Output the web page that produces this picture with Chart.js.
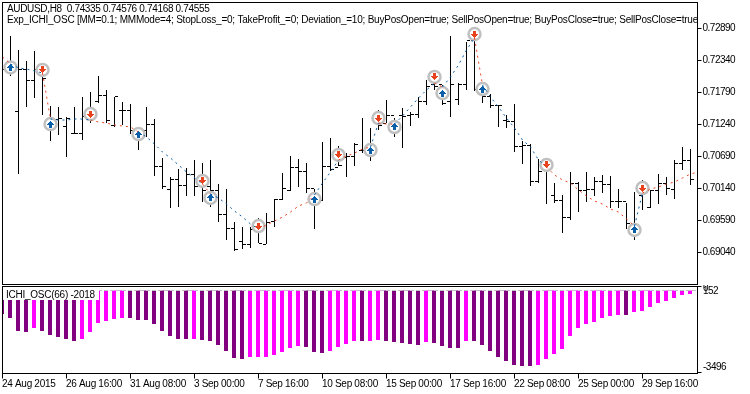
<!DOCTYPE html>
<html><head><meta charset="utf-8">
<script src="https://cdn.jsdelivr.net/npm/chart.js@4"></script>
<style>
html,body{margin:0;padding:0;background:#fff;width:750px;height:394px;overflow:hidden}
canvas{position:absolute;left:0;display:block}
</style></head><body>
<canvas id="main" width="750" height="285" style="top:0"></canvas>
<canvas id="sub" width="750" height="109" style="top:285px"></canvas>
<script>
const days=['24 Aug','25 Aug','26 Aug','27 Aug','28 Aug','31 Aug','1 Sep','2 Sep','3 Sep','4 Sep','7 Sep','8 Sep','9 Sep','10 Sep','11 Sep','14 Sep','15 Sep','16 Sep','17 Sep','18 Sep','21 Sep','22 Sep','23 Sep','24 Sep','25 Sep','28 Sep','29 Sep','30 Sep','1 Oct'];
const hours=['00:00','08:00','16:00'];
const categories=days.flatMap(d=>hours.map(h=>d+' '+h));
const tickBars=[0,8,16,24,32,40,48,56,64,72,80];
const tickLabels=['24 Aug 2015','26 Aug 16:00','31 Aug 08:00','3 Sep 00:00','7 Sep 16:00','10 Sep 08:00','15 Sep 00:00','17 Sep 16:00','22 Sep 08:00','25 Sep 00:00','29 Sep 16:00'];
const priceTicks=[0.7289,0.7234,0.7179,0.7124,0.7069,0.7014,0.6959,0.6904];
const header1='AUDUSD,H8  0.74335 0.74576 0.74168 0.74555';
const header2='Exp_ICHI_OSC [MM=0.1; MMMode=4; StopLoss_=0; TakeProfit_=0; Deviation_=10; BuyPosOpen=true; SellPosOpen=true; BuyPosClose=true; SellPosClose=true]';
const oscName='ICHI_OSC(66) -2018';
const oscTicks=[152,-3496];
const oscLabels=['0','152','-3496'];
const highs=[.72520,.72761,.72520,.72332,.72503,.72211,.71558,.71541,.71369,.71541,.71713,.71799,.72074,.71833,.71713,.71627,.71592,.71197,.71541,.71334,.70664,.70338,.70475,.70493,.70630,.70578,.70630,.70217,.70131,.69564,.69478,.69478,.69633,.69719,.69959,.70406,.70698,.70647,.70578,.70131,.70939,.71007,.70870,.70749,.70921,.71351,.71180,.71489,.71661,.71351,.71523,.71455,.71713,.72005,.72143,.71919,.72761,.71953,.72658,.72899,.71971,.71764,.71575,.71403,.71592,.70956,.70904,.70647,.70664,.70234,.70028,.70424,.70252,.70424,.70338,.70372,.70355,.70131,.69890,.70079,.70286,.70114,.70389,.70338,.70630,.70853,.70818];
const lows=[.72005,.72074,.70389,.71541,.71695,.71403,.70956,.71059,.70681,.71076,.70973,.71265,.71609,.71265,.71197,.71231,.71076,.70801,.71025,.70355,.70131,.69805,.69822,.70011,.70011,.69908,.69822,.69564,.69255,.69066,.69100,.69117,.69203,.69186,.69478,.69942,.70097,.70166,.70062,.69444,.69925,.70441,.70527,.70338,.70527,.70749,.70613,.71145,.71265,.71025,.70836,.71214,.71351,.71575,.71833,.71575,.71369,.71575,.71833,.71816,.71609,.71523,.71197,.71180,.70767,.70561,.70183,.70235,.69873,.69890,.69375,.69598,.69736,.69908,.70011,.70062,.69805,.69805,.69444,.69255,.69770,.69805,.69873,.70028,.69959,.70458,.70200];
const opens=[.72177,.72297,.71455,.72177,.71988,.72143,.71351,.71334,.71197,.71093,.71093,.71455,.71627,.71730,.71231,.71472,.71472,.71145,.71145,.71248,.70510,.70131,.70303,.70200,.70389,.70200,.70166,.70114,.69701,.69444,.69221,.69186,.69495,.69186,.69581,.69959,.70114,.70493,.70424,.70148,.69942,.70510,.70493,.70681,.70698,.70801,.70836,.71317,.71265,.71403,.71403,.71403,.71420,.71627,.71936,.71919,.71627,.71678,.71936,.72692,.71833,.71713,.71575,.71317,.71283,.70870,.70887,.70252,.70544,.70028,.69942,.69650,.70234,.70114,.70131,.70252,.70217,.69925,.69908,.69461,.70028,.69822,.70114,.70234,.70131,.70578,.70613];
const closes=[.72177,.72177,.72177,.71988,.72177,.72039,.71283,.71351,.71351,.71093,.71369,.71351,.71730,.71317,.71713,.71472,.71145,.71059,.71248,.70510,.70166,.70303,.70200,.70389,.70166,.70114,.70114,.69701,.69444,.69083,.69186,.69427,.69203,.69564,.69959,.70148,.70493,.70424,.70148,.69942,.70510,.70458,.70527,.70698,.70904,.70801,.70801,.71231,.71403,.71231,.71386,.71420,.71627,.71885,.71885,.71609,.71936,.71936,.72692,.71833,.71713,.71575,.71558,.71283,.70870,.70887,.70252,.70424,.70458,.69942,.69650,.70234,.70114,.70131,.70252,.70217,.69925,.69908,.69546,.69461,.70148,.70114,.70234,.70148,.70578,.70613,.70303];
const signalLine=[.72400,.72280,.72211,.72194,.72160,.72125,.71334,.71317,.71317,.71334,.71334,.71317,.71283,.71265,.71231,.71214,.71197,.71111,.71025,.70904,.70767,.70664,.70544,.70424,.70321,.70217,.70045,.69977,.69873,.69753,.69650,.69530,.69444,.69513,.69581,.69650,.69736,.69839,.69890,.70028,.70234,.70424,.70630,.70698,.70749,.70818,.70853,.71265,.71248,.71248,.71386,.71541,.71695,.71833,.71953,.71885,.72057,.72263,.72520,.72727,.71919,.71713,.71541,.71351,.71180,.70973,.70853,.70630,.70510,.70372,.70286,.70234,.70114,.70011,.69925,.69873,.69787,.69736,.69615,.69495,.70062,.70131,.70166,.70217,.70252,.70321,.70389,.70424];
const buyBars=[1,6,17,26,39,46,49,55,60,79];
const buyPrices=[.72220,.71248,.71076,.69977,.69959,.70801,.71197,.71781,.71850,.69427];
const sellBars=[5,11,25,32,42,47,54,59,68,80];
const sellPrices=[.72177,.71420,.70269,.69495,.70716,.71351,.72057,.72795,.70544,.70148];
const oscValues=[-1003,-1173,-1728,-1771,-1600,-1728,-1899,-1984,-2069,-2155,-2069,-1771,-1387,-1301,-1216,-1173,-1173,-1259,-1259,-1429,-1728,-1941,-2069,-2069,-2069,-2112,-2155,-2325,-2581,-2880,-2923,-2837,-2837,-2837,-2752,-2624,-2453,-2368,-2411,-2624,-2667,-2581,-2411,-2283,-2155,-2155,-2155,-2112,-2155,-2197,-2240,-2283,-2325,-2197,-2240,-2368,-2453,-2453,-2155,-2155,-2325,-2581,-2837,-3008,-3179,-3221,-3221,-3179,-2923,-2709,-2496,-1941,-1600,-1429,-1344,-1173,-1088,-1045,-1045,-917,-875,-704,-533,-448,-320,-192,-149];
const oscRising=[0,0,0,0,1,0,0,0,0,0,1,1,1,1,1,1,0,0,0,0,0,0,0,0,1,0,0,0,0,0,0,1,1,1,1,1,1,1,0,0,0,1,1,1,1,0,1,1,0,0,0,0,0,1,0,0,0,0,1,0,0,0,0,0,0,0,0,1,1,1,1,1,1,1,1,1,1,1,0,1,1,1,1,1,1,1,1];

const FONT='"Liberation Sans"';
const RIGHT_W=52.5;
const BLUE='#0b5fa9', RED='#e8431f', RING='#c0c0c0', PURPLE='#800080', MAGENTA='#ff00ff';

function tickImage(side){const c=document.createElement('canvas');c.width=7;c.height=1;const x=c.getContext('2d');x.fillStyle='#000';x.fillRect(side<0?0:4,0,3,1);return c;}
function arrowImage(up,color){const rows=[1,3,5,7,3,3,3];const c=document.createElement('canvas');c.width=7;c.height=7;const x=c.getContext('2d');x.fillStyle=color;rows.forEach((w,r)=>{const y=up?r:6-r;x.fillRect((7-w)/2,y,w,1);});return c;}
const pts=(bars,vals)=>bars.map((b,i)=>({x:b,y:vals[i]}));
const idx=highs.map((_,i)=>i);
const mark=[];let state=RED;
signalLine.forEach((_,i)=>{if(buyBars.includes(i))state=BLUE;if(sellBars.includes(i))state=RED;mark[i]=state;});

const noPad=s=>{s.paddingTop=0;s.paddingBottom=0;s.paddingLeft=0;s.paddingRight=0;};
const xBase={type:'linear',offset:false,grid:{offset:false,display:false},border:{display:false}};
const framePlugin=(top,bottom,spacing)=>({id:'frame',beforeDraw(c){c.ctx.imageSmoothingEnabled=false;c.ctx.letterSpacing=spacing;},afterDraw(c){const x=c.ctx;x.save();x.strokeStyle='#000';x.lineWidth=1;x.strokeRect(2.5,top,695,bottom-top);x.restore();}});
const headerPlugin={id:'header',afterDraw(c){const x=c.ctx;x.save();x.beginPath();x.rect(3,3,694,30);x.clip();x.fillStyle='#000';x.font='10px '+FONT;x.textBaseline='middle';x.textAlign='left';x.letterSpacing='-0.33px';x.fillText(header1,7,9.5);x.letterSpacing='-0.22px';x.fillText(header2,7,20.5);x.restore();}};

new Chart(document.getElementById('main'),{
 type:'bar',
 data:{datasets:[
  {type:'line',data:pts(sellBars,sellPrices),showLine:false,pointStyle:arrowImage(false,RED),pointRadius:4,order:0},
  {type:'line',data:pts(buyBars,buyPrices),showLine:false,pointStyle:arrowImage(true,BLUE),pointRadius:4,order:0},
  {type:'line',data:pts(idx.concat(87),signalLine),borderColor:RED,borderWidth:1,borderDash:[2,4],pointRadius:0,tension:0,order:1,segment:{borderColor:s=>mark[s.p0DataIndex]}},
  {type:'line',data:pts(sellBars.concat(buyBars),sellPrices.concat(buyPrices)),showLine:false,pointStyle:'circle',pointRadius:6,pointBorderWidth:2.5,pointBorderColor:RING,pointBackgroundColor:'#fff',order:2},
  {type:'line',data:pts(idx,opens),showLine:false,pointStyle:tickImage(-1),pointRadius:4,order:3},
  {type:'line',data:pts(idx,closes),showLine:false,pointStyle:tickImage(1),pointRadius:4,order:3},
  {type:'bar',data:idx.map(i=>({x:i,y:[lows[i],highs[i]]})),backgroundColor:'#000',barThickness:1,grouped:false,inflateAmount:0,order:4}
 ]},
 options:{responsive:false,animation:false,devicePixelRatio:1,
  layout:{autoPadding:false,padding:{left:2.5,right:0,top:2.5,bottom:0.5}},
  plugins:{legend:{display:false},tooltip:{enabled:false}},
  scales:{x:{...xBase,min:0,max:86.875,display:false},
   y:{position:'right',min:0.68490,max:0.733368,
    afterFit(s){s.width=RIGHT_W;noPad(s);},
    afterBuildTicks(s){s.ticks=priceTicks.map(v=>({value:v}));},
    grid:{drawOnChartArea:false,drawTicks:true,tickLength:4,color:'#000'},border:{display:false},
    ticks:{autoSkip:false,padding:1,color:'#000',font:{family:FONT,size:10},callback:v=>v.toFixed(5)}}}
 },
 plugins:[framePlugin(2.5,284.5,'-0.5px'),headerPlugin]
});

const oscPlugin={id:'osc',afterDraw(c){const x=c.ctx;x.save();
 x.fillStyle='#fff';x.fillRect(3,2,96,13);
 x.fillStyle='#000';x.font='10px '+FONT;x.textBaseline='middle';x.textAlign='left';
 x.letterSpacing='-0.25px';x.fillText(oscName,6,10.5);x.letterSpacing='-0.5px';
 x.fillText(oscLabels[0],703,3.5);x.fillText(oscLabels[1],703,6.5);x.fillText(oscLabels[2],703,82.5);
 x.restore();}};

new Chart(document.getElementById('sub'),{
 type:'bar',
 data:{datasets:[
  {type:'line',data:pts(idx.concat(87),new Array(88).fill(0)),borderColor:RING,borderWidth:1,borderDash:[4,2],pointRadius:0,order:0},
  {type:'bar',data:idx.map(i=>({x:i,y:oscValues[i]})),backgroundColor:oscRising.map(r=>r?MAGENTA:PURPLE),barThickness:4,grouped:false,inflateAmount:0,order:1}
 ]},
 options:{responsive:false,animation:false,devicePixelRatio:1,
  layout:{autoPadding:false,padding:{left:2,right:0,top:1.5,bottom:0}},
  plugins:{legend:{display:false},tooltip:{enabled:false}},
  scales:{
   x:{...xBase,min:0,max:86.9375,display:true,
    afterFit(s){s.height=20.5;noPad(s);},
    afterBuildTicks(s){s.ticks=tickBars.map(v=>({value:v}));},
    grid:{display:true,drawOnChartArea:false,drawTicks:true,tickLength:5,color:'#000',offset:false},
    ticks:{autoSkip:false,maxRotation:0,minRotation:0,align:'start',padding:0,color:'#000',font:{family:FONT,size:10},callback:(v,i)=>tickLabels[i]}},
   y:{position:'right',min:-3541.6,max:170.7,
    afterFit(s){s.width=RIGHT_W;noPad(s);},
    afterBuildTicks(s){s.ticks=oscTicks.map(v=>({value:v}));},
    grid:{drawOnChartArea:false,drawTicks:true,tickLength:4,color:'#000'},border:{display:false},
    ticks:{display:false}}}
 },
 plugins:[framePlugin(1.5,88.5,'-0.3px'),oscPlugin]
});
</script></body></html>
